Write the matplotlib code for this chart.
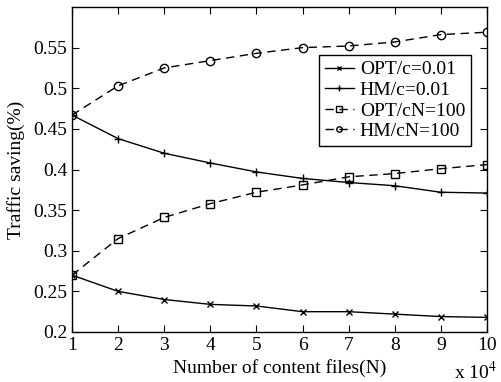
import matplotlib
matplotlib.use("Agg")
import matplotlib.pyplot as plt

plt.rcParams['font.family'] = ['Liberation Serif', 'DejaVu Serif']
plt.rcParams['mathtext.fontset'] = 'stix'

N = [1, 2, 3, 4, 5, 6, 7, 8, 9, 10]
opt_c = [0.270, 0.250, 0.240, 0.234, 0.232, 0.225, 0.225, 0.222, 0.219, 0.218]
hm_c = [0.467, 0.438, 0.420, 0.408, 0.397, 0.389, 0.384, 0.380, 0.372, 0.371]
opt_cn = [0.270, 0.315, 0.341, 0.358, 0.372, 0.381, 0.391, 0.395, 0.401, 0.406]
hm_cn = [0.467, 0.503, 0.525, 0.534, 0.543, 0.550, 0.552, 0.557, 0.566, 0.569]
labels = ['OPT/c=0.01', 'HM/c=0.01', 'OPT/cN=100', 'HM/cN=100']

fig = plt.figure(figsize=(5.02, 3.82), dpi=100)
ax = fig.add_axes([72/502, 1-332/382, (487-72)/502, (332-7)/382])

dash = (0, (6, 4))
ax.plot(N, opt_c, color='k', lw=1, marker='x', ms=4, mew=1, label=labels[0])
ax.plot(N, hm_c, color='k', lw=1, marker='+', ms=6, mew=1, label=labels[1])
ax.plot(N, opt_cn, color='k', lw=1, linestyle=dash, marker='s', ms=6, mfc='none', mew=1, label=labels[2])
ax.plot(N, hm_cn, color='k', lw=1, linestyle=dash, marker='o', ms=6, mfc='none', mew=1, label=labels[3])

ax.set_xlim(1, 10)
ax.set_ylim(0.2, 0.6)
ax.set_xticks(N)
ax.set_yticks([0.2, 0.25, 0.3, 0.35, 0.4, 0.45, 0.5, 0.55])
ax.set_yticklabels(['0.2', '0.25', '0.3', '0.35', '0.4', '0.45', '0.5', '0.55'])
ax.tick_params(direction='in', length=5, labelsize=14, top=True, right=True, width=0.8)
for s in ax.spines.values():
    s.set_linewidth(1)

ax.set_xlabel('Number of content files(N)', fontsize=14, labelpad=4)
ax.set_ylabel('Traffic saving(%)', fontsize=14, labelpad=6)
fig.text(497/502, 1-379/382, r'x 10$^4$', fontsize=14, ha='right', va='baseline')

leg = ax.legend(loc='upper right', fontsize=14, markerscale=0.65,
                frameon=True, fancybox=False, edgecolor='k', framealpha=1,
                handlelength=1.5, handletextpad=0.3, borderpad=0.3, labelspacing=0.15,
                borderaxespad=0)
leg.set_bbox_to_anchor(((471-72)/415, (332-55)/325), transform=ax.transAxes)
leg.get_frame().set_linewidth(1)

fig.savefig('out.png', dpi=100)
